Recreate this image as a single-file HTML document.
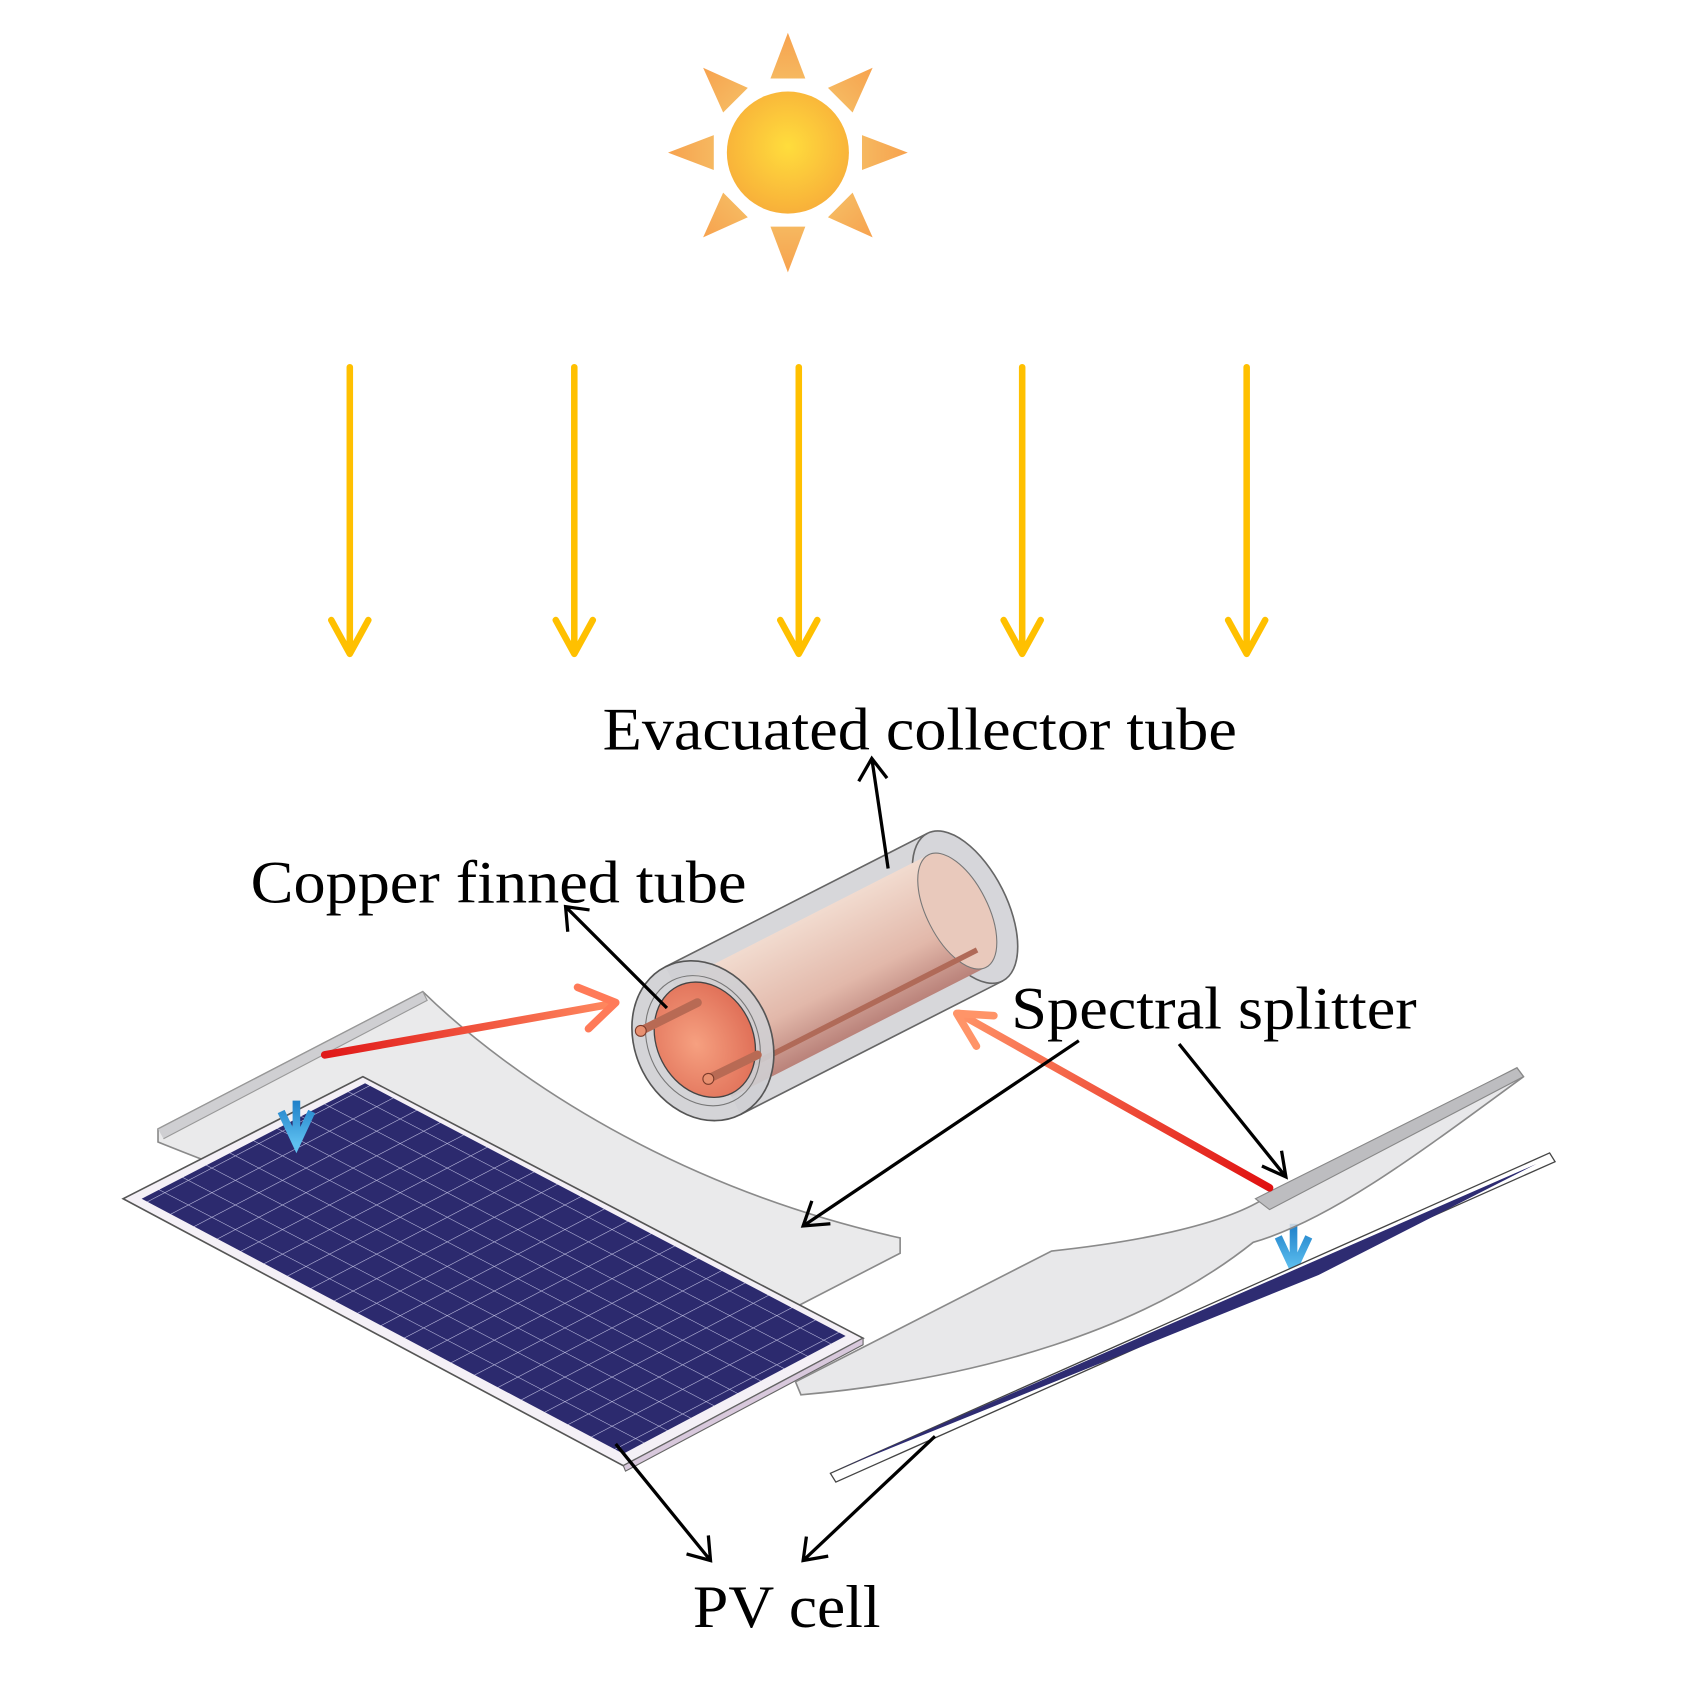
<!DOCTYPE html>
<html><head><meta charset="utf-8"><style>html,body{margin:0;padding:0;background:#fff}svg{display:block}</style></head>
<body>
<svg width="1700" height="1700" viewBox="0 0 1560 1560" xmlns="http://www.w3.org/2000/svg">
<defs>
<radialGradient id="sun" cx="0.5" cy="0.45" r="0.55"><stop offset="0" stop-color="#FFDD3C"/><stop offset="1" stop-color="#F8B03A"/></radialGradient>
<linearGradient id="ray" x1="0" y1="0" x2="0" y2="1"><stop offset="0" stop-color="#F7A24E"/><stop offset="1" stop-color="#F6B860"/></linearGradient>
<linearGradient id="redL" x1="298" y1="968" x2="565" y2="920" gradientUnits="userSpaceOnUse"><stop offset="0" stop-color="#E01818"/><stop offset="1" stop-color="#FF8A60"/></linearGradient>
<linearGradient id="redR" x1="1165" y1="1090" x2="878" y2="930" gradientUnits="userSpaceOnUse"><stop offset="0" stop-color="#E01010"/><stop offset="1" stop-color="#FF9468"/></linearGradient>
<linearGradient id="cu" x1="0" y1="-60" x2="0" y2="60" gradientUnits="userSpaceOnUse"><stop offset="0" stop-color="#F2DCD0"/><stop offset="0.6" stop-color="#E2B8AA"/><stop offset="1" stop-color="#B88078"/></linearGradient>
<radialGradient id="cuface" cx="0.4" cy="0.5" r="0.6"><stop offset="0" stop-color="#F6A080"/><stop offset="1" stop-color="#E07058"/></radialGradient>
<linearGradient id="blue" x1="0" y1="0" x2="0" y2="1"><stop offset="0" stop-color="#1E7FC8"/><stop offset="1" stop-color="#5EC0F0"/></linearGradient>
<pattern id="cells" width="24" height="24" patternUnits="userSpaceOnUse" patternTransform="matrix(0.9 0.47 -0.9 0.47 0 0)">
<rect width="24" height="24" fill="#2C2A6E"/><path d="M0 0H24M0 0V24" stroke="#C8C8E8" stroke-width="1.2"/></pattern>
</defs>

<g transform="translate(723,140)">
<g fill="url(#ray)">
<polygon points="0,-110 -16,-68 16,-68"/>
<polygon points="0,-110 -16,-68 16,-68" transform="rotate(45)"/>
<polygon points="0,-110 -16,-68 16,-68" transform="rotate(90)"/>
<polygon points="0,-110 -16,-68 16,-68" transform="rotate(135)"/>
<polygon points="0,-110 -16,-68 16,-68" transform="rotate(180)"/>
<polygon points="0,-110 -16,-68 16,-68" transform="rotate(225)"/>
<polygon points="0,-110 -16,-68 16,-68" transform="rotate(270)"/>
<polygon points="0,-110 -16,-68 16,-68" transform="rotate(315)"/>
</g>
<circle r="56" fill="url(#sun)"/>
</g>

<g stroke="#FFC000" stroke-width="6" fill="none" stroke-linecap="round" stroke-linejoin="round">
<path d="M321 337V600M304 569L321 600L338 569"/>
<path d="M527 337V600M510 569L527 600L544 569"/>
<path d="M733 337V600M716 569L733 600L750 569"/>
<path d="M938 337V600M921 569L938 600L955 569"/>
<path d="M1144 337V600M1127 569L1144 600L1161 569"/>
</g>

<path d="M145 1036 L388 910 C470 990 620 1090 826 1136 L826 1150 L700 1215 C500 1180 300 1110 145 1048 Z" fill="#E6E6E8" fill-opacity="0.85" stroke="#8a8a8a" stroke-width="1.5"/>
<path d="M145 1036 L388 910 L392 918 L150 1045" fill="#cfcfd2" stroke="#999" stroke-width="1"/>

<polygon points="113,1100 333,988 792,1228 572,1345" fill="#f4f0f6" stroke="#555" stroke-width="1.5"/>
<polygon points="130,1100 335,994 776,1226 572,1334" fill="url(#cells)"/>
<polygon points="572,1345 792,1228 792,1234 574,1350" fill="#d8c8dc" stroke="#666" stroke-width="1"/>

<path d="M272 1010 V1048 M258 1020 L272 1050 L286 1020" stroke="url(#blue)" stroke-width="7" fill="none"/>
<path d="M1187 1123 V1163 M1173 1135 L1187 1165 L1201 1135" stroke="url(#blue)" stroke-width="7" fill="none"/>

<path d="M730 1268 L965 1148 C1040 1140 1120 1125 1160 1100 L1392 980 L1398 988 C1300 1060 1220 1120 1150 1140 C1050 1220 900 1265 735 1280 Z" fill="#E4E4E6" fill-opacity="0.85" stroke="#8a8a8a" stroke-width="1.5"/>
<path d="M1152 1100 L1392 980 L1398 988 L1165 1110 Z" fill="#bdbdc0" stroke="#888" stroke-width="1"/>

<polygon points="762,1352 1422,1058 1427,1066 767,1360" fill="#fff" stroke="#444" stroke-width="1.2"/>
<polygon points="770,1348 1410,1068 1210,1170" fill="#2E2C72"/>

<g transform="translate(645,955) rotate(-27)">
<rect x="0" y="-76" width="270" height="152" fill="#C9C9CD" fill-opacity="0.75"/>
<ellipse cx="270" cy="0" rx="38" ry="76" fill="#D6D6DA" stroke="#666" stroke-width="1.5"/>
<rect x="0" y="-58" width="262" height="116" fill="url(#cu)"/>
<ellipse cx="262" cy="0" rx="28" ry="58" fill="#E9C9BC" stroke="#777" stroke-width="1"/>
<path d="M0 -76 H270 M0 76 H270" stroke="#666" stroke-width="1.5"/>
<path d="M30 40 H262" stroke="#B06A58" stroke-width="5"/>
<ellipse cx="0" cy="0" rx="62" ry="76" fill="#CFCFD3" fill-opacity="0.9" stroke="#555" stroke-width="1.5"/>
<ellipse cx="0" cy="0" rx="50" ry="62" fill="none" stroke="#777" stroke-width="1"/>
<ellipse cx="2" cy="0" rx="44" ry="55" fill="url(#cuface)" stroke="#444" stroke-width="1.2"/>
</g>
<g stroke="#B86A54" stroke-width="8" stroke-linecap="round"><path d="M588 946 L640 920"/><path d="M650 990 L695 968"/></g>
<g fill="#E89070" stroke="#7a3a2a" stroke-width="1"><circle cx="588" cy="946" r="5"/><circle cx="650" cy="990" r="5"/></g>

<g fill="none" stroke-width="7" stroke-linejoin="round" stroke-linecap="round">
<path d="M298 968 L563 921" stroke="url(#redL)"/>
<path d="M530 906 L565 920 L540 944" stroke="#FF7A58"/>
<path d="M1165 1090 L880 930" stroke="url(#redR)"/>
<path d="M912 932 L878 930 L896 960" stroke="#FF9468"/>
</g>

<g stroke="#000" stroke-width="3" fill="none">
<path d="M815 797 L800 696 M788 717 L800 696 L814 714"/>
<path d="M612 925 L519 832 M521 855 L519 832 L541 835"/>
<path d="M990 955 L737 1125 M745 1102 L737 1125 L762 1123"/>
<path d="M1082 958 L1180 1080 M1176 1056 L1180 1080 L1158 1070"/>
<path d="M565 1325 L652 1432 M650 1409 L652 1432 L630 1426"/>
<path d="M858 1318 L737 1432 M740 1410 L737 1432 L760 1428"/>
</g>

<g font-family="Liberation Serif, serif" font-size="55" fill="#000">
<text x="553" y="688" textLength="582" lengthAdjust="spacingAndGlyphs">Evacuated collector tube</text>
<text x="230" y="828" textLength="455" lengthAdjust="spacingAndGlyphs">Copper finned tube</text>
<text x="928" y="944" textLength="372" lengthAdjust="spacingAndGlyphs">Spectral splitter</text>
<text x="636" y="1493" textLength="172" lengthAdjust="spacingAndGlyphs">PV cell</text>
</g>
</svg>
</body></html>
